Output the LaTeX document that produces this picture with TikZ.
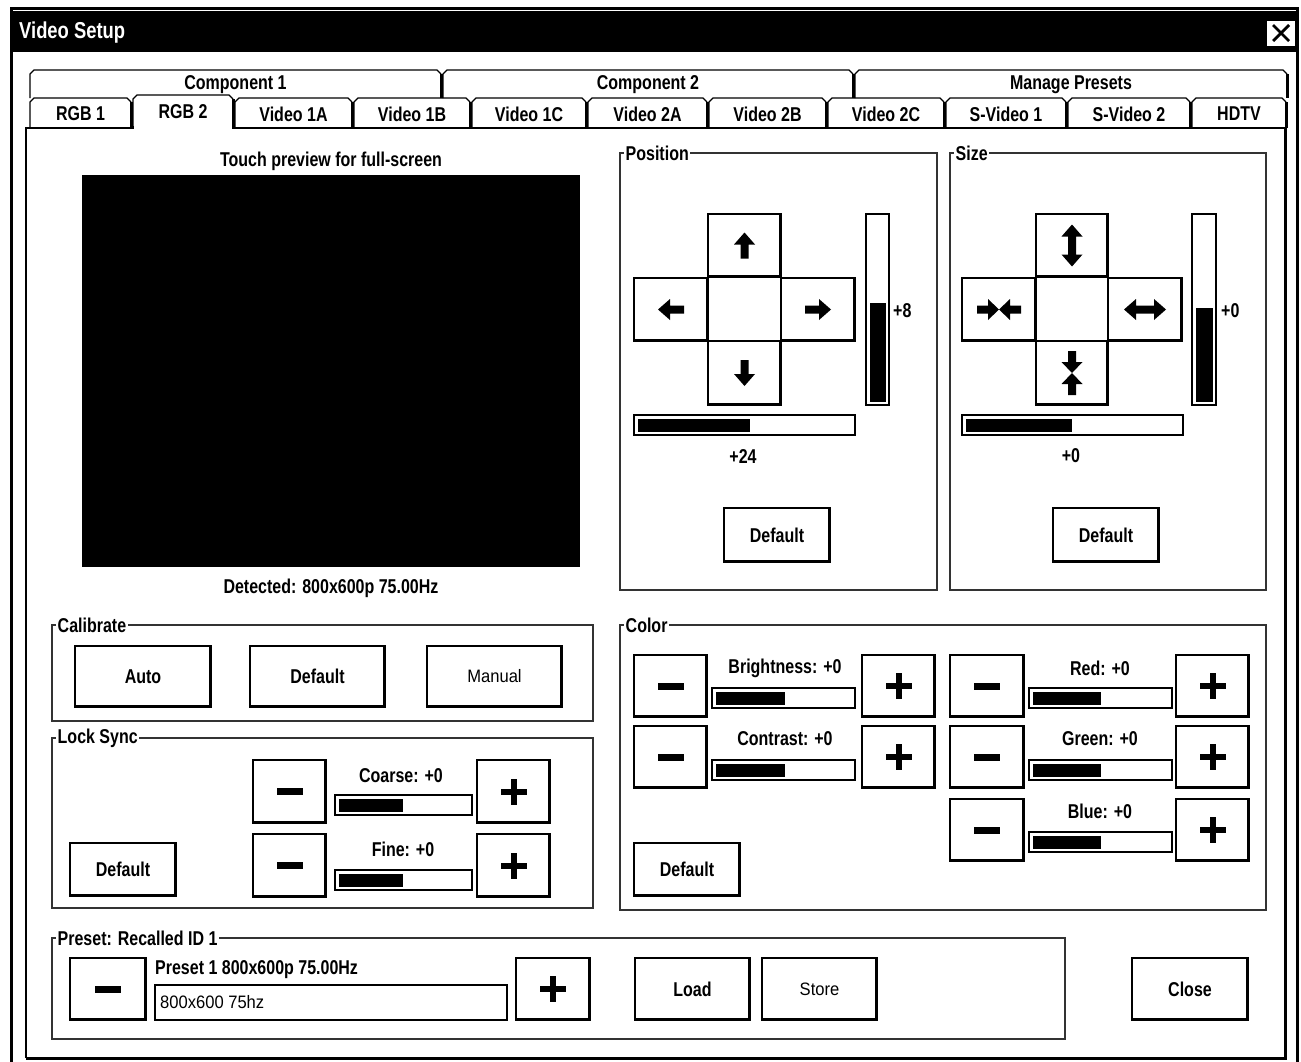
\documentclass[tikz,border=0pt]{standalone}
\usepackage{fontspec}
\setmainfont{Liberation Sans}
\newfontfamily\uibold{Liberation Sans Bold}[FakeStretch=0.8]
\newfontfamily\uireg{Liberation Sans}[FakeStretch=0.92]
\tikzset{
  lbl/.style={font=\uibold\fontsize{20}{22}\selectfont, inner sep=0pt},
  lblr/.style={font=\uireg\fontsize{18}{20}\selectfont, inner sep=0pt},
  btnbox/.style={draw=black, line width=1.3pt, fill=white, inner sep=0pt, outer sep=0pt, font=\uibold\fontsize{20}{22}\selectfont},
  shade/.style={line width=2.6pt},
  grp/.style={draw=black!80, line width=1.1pt, inner sep=0pt, outer sep=0pt},
  glabel/.style={lbl, fill=white, anchor=west, inner xsep=1.5pt},
  trough/.style={draw=black, line width=1.2pt, fill=white, inner sep=0pt, outer sep=0pt},
  thinl/.style={line width=1.3pt},
  thickl/.style={line width=3pt},
}
\newcommand\uibtn[6]{%
  \node[btnbox, minimum width={(#4-#2)*1pt}, minimum height={(#5-#3)*1pt}] (#1) at ({(#2+#4)/2},{(#3+#5)/2}) {#6};
  \draw[shade] ([xshift=-1pt,yshift=-0.5pt]#1.north east) -- ([xshift=-1pt,yshift=1pt]#1.south east) -- ([xshift=0.5pt,yshift=1pt]#1.south west);}
\newcommand\uislider[9]{%
  \node[trough, minimum width={(#4-#2)*1pt}, minimum height={(#5-#3)*1pt}] (#1) at ({(#2+#4)/2},{(#3+#5)/2}) {};
  \fill (#6,#7) rectangle (#8,#9);}
\newcommand\uigroup[6]{%
  \node[grp, minimum width={(#4-#2)*1pt}, minimum height={(#5-#3)*1pt}] (#1) at ({(#2+#4)/2},{(#3+#5)/2}) {};
  \node[glabel] (#1-l) at ([xshift=4pt]#1.north west) {#6};}
\newcommand\uitab[6]{%
  \draw[thinl] (#2,#5) -- (#2,{#3+4}) -- ({#2+4},#3) -- ({#4-4},#3) -- (#4,{#3+4});
  \draw[thickl] (#4,{#3+4}) -- (#4,#5);
  \node[lbl] (#1) at ({(#2+#4)/2},{(#3+#5)/2+1}) {#6};}
\newcommand\minusicon[1]{\fill ([shift={(-13,-3.5)}]#1.center) rectangle ([shift={(13,3.5)}]#1.center);}
\newcommand\plusicon[1]{\fill ([shift={(-13,-3)}]#1.center) rectangle ([shift={(13,3)}]#1.center);
  \fill ([shift={(-3,-13)}]#1.center) rectangle ([shift={(3,13)}]#1.center);}
\begin{document}
\begin{tikzpicture}[x=1pt,y=-1pt]
\useasboundingbox (0,0) rectangle (1301,1061);
\fill[white] (0,0) rectangle (1301,1061);
% window frame and title
\draw[line width=3pt] (11.5,1075) -- (11.5,8.5) -- (1297.5,8.5) -- (1297.5,1075);
\fill (13,11) rectangle (1296,52);
\node[font=\uibold\fontsize{23}{25}\selectfont, text=white, anchor=west, inner sep=0pt] (title) at (19,33) {Video Setup};
\node[fill=white, minimum width=28pt, minimum height=25pt, inner sep=0pt] (closex) at (1281,33) {};
\draw[line width=2.8pt] ([shift={(-8,-8)}]closex.center) -- ([shift={(8,8)}]closex.center);
\draw[line width=2.8pt] ([shift={(-8,8)}]closex.center) -- ([shift={(8,-8)}]closex.center);
% tab panel
\draw[line width=1.5pt] (26,1058) -- (26,128) -- (1285,128);
\draw[thickl] (1285,128) -- (1285,1058) -- (26,1058);
% tabs row 1
\uitab{tc1}{30}{70}{441}{98}{Component 1}
\uitab{tc2}{443}{70}{853}{98}{Component 2}
\uitab{tmp}{855}{70}{1287}{98}{Manage Presets}
% tabs row 2
\uitab{trgb1}{30}{98}{131}{128}{RGB 1}
\uitab{tv1a}{235}{98}{352}{128}{Video 1A}
\uitab{tv1b}{354}{98}{470}{128}{Video 1B}
\uitab{tv1c}{472}{98}{586}{128}{Video 1C}
\uitab{tv2a}{588}{98}{707}{128}{Video 2A}
\uitab{tv2b}{709}{98}{826}{128}{Video 2B}
\uitab{tv2c}{828}{98}{944}{128}{Video 2C}
\uitab{tsv1}{946}{98}{1066}{128}{S-Video 1}
\uitab{tsv2}{1068}{98}{1190}{128}{S-Video 2}
\uitab{thdtv}{1192}{98}{1286}{128}{HDTV}
\fill[white] (133,96) rectangle (233,129.5);
\uitab{trgb2}{133}{95}{233}{126}{RGB 2}
\draw[thinl] (133,126) -- (133,129);
\draw[thickl] (233,126) -- (233,129);
% preview
\node[lbl] (touch) at (331,161) {Touch preview for full-screen};
\node[fill=black, minimum width=498pt, minimum height=392pt, inner sep=0pt] (preview) at (331,371) {};
\node[lbl] (detected) at (331,588) {Detected: 800x600p 75.00Hz};
% Position
\uigroup{gpos}{620}{153}{937}{590}{Position}
\uibtn{pu}{708}{214}{781}{277}{}
\uibtn{pl}{634}{278}{708}{341}{}
\uibtn{pr}{781}{278}{855}{341}{}
\uibtn{pd}{708}{341}{781}{405}{}
\foreach \n/\r in {pu/0, pl/90, pr/-90, pd/180}{
  \begin{scope}[shift={(\n.center)}, rotate=\r]
    \fill (0,-13) -- (10.5,-1) -- (4,-1) -- (4,13) -- (-4,13) -- (-4,-1) -- (-10.5,-1) -- cycle;
  \end{scope}}
\uislider{pv}{866}{214}{889}{405}{869.5}{303}{885.5}{401.5}
\node[lbl, anchor=west] (pvval) at (893,311) {+8};
\uislider{ph}{634}{415}{855}{435}{637.5}{418.5}{750}{431.5}
\node[lbl] (phval) at (743,457) {+24};
\uibtn{pdef}{724}{508}{830}{562}{Default}
% Size
\uigroup{gsize}{950}{153}{1266}{590}{Size}
\uibtn{su}{1036}{214}{1108}{277}{}
\uibtn{sl}{962}{278}{1036}{341}{}
\uibtn{sr}{1108}{278}{1182}{341}{}
\uibtn{sd}{1036}{341}{1108}{405}{}
\begin{scope}[shift={(su.center)}]
  \fill (0,-21) -- (10.5,-9) -- (4,-9) -- (4,9) -- (10.5,9) -- (0,21) -- (-10.5,9) -- (-4,9) -- (-4,-9) -- (-10.5,-9) -- cycle;
\end{scope}
\begin{scope}[shift={(sr.center)}, rotate=90]
  \fill (0,-21) -- (10.5,-9) -- (4,-9) -- (4,9) -- (10.5,9) -- (0,21) -- (-10.5,9) -- (-4,9) -- (-4,-9) -- (-10.5,-9) -- cycle;
\end{scope}
\foreach \n/\r in {sd/0, sl/90}{
  \begin{scope}[shift={(\n.center)}, rotate=\r]
    \fill (0,0) -- (10.5,-11) -- (4,-11) -- (4,-22) -- (-4,-22) -- (-4,-11) -- (-10.5,-11) -- cycle;
    \fill (0,0) -- (10.5,11) -- (4,11) -- (4,22) -- (-4,22) -- (-4,11) -- (-10.5,11) -- cycle;
  \end{scope}}
\uislider{sv}{1192}{214}{1216}{405}{1195.5}{308}{1212.5}{401.5}
\node[lbl, anchor=west] (svval) at (1221,311) {+0};
\uislider{sh}{962}{415}{1183}{435}{965.5}{418.5}{1072}{431.5}
\node[lbl] (shval) at (1071,456) {+0};
\uibtn{sdef}{1053}{508}{1159}{562}{Default}
% Calibrate
\uigroup{gcal}{52}{625}{593}{721}{Calibrate}
\uibtn{cauto}{75}{646}{211}{707}{Auto}
\uibtn{cdef}{250}{646}{385}{707}{Default}
\uibtn{cman}{427}{646}{562}{707}{\uireg\fontsize{18}{20}\selectfont Manual}
\draw[line width=2.4pt] (cman.north west) rectangle (cman.south east);
% Lock Sync
\uigroup{glock}{52}{738}{593}{908}{Lock Sync}
\uibtn{ldef}{70}{843}{176}{896}{Default}
\uibtn{lcm}{253}{760}{326}{823}{}
\minusicon{lcm}
\node[lbl] (lcl) at (401,776) {Coarse: +0};
\uislider{lcs}{335}{795}{472}{815}{338.5}{798.5}{403}{811.5}
\uibtn{lcp}{477}{760}{550}{823}{}
\plusicon{lcp}
\uibtn{lfm}{253}{834}{326}{897}{}
\minusicon{lfm}
\node[lbl] (lfl) at (403,849) {Fine: +0};
\uislider{lfs}{335}{870}{472}{890}{338.5}{873.5}{403}{886.5}
\uibtn{lfp}{477}{834}{550}{897}{}
\plusicon{lfp}
% Color
\uigroup{gcol}{620}{625}{1266}{910}{Color}
\uibtn{cbm}{634}{655}{707}{717}{}
\minusicon{cbm}
\node[lbl] (cbl) at (785,668) {Brightness: +0};
\uislider{cbs}{712}{688}{855}{708}{715.5}{691.5}{785}{704.5}
\uibtn{cbp}{862}{655}{935}{717}{}
\plusicon{cbp}
\uibtn{ccm}{634}{726}{707}{788}{}
\minusicon{ccm}
\node[lbl] (ccl) at (785,739) {Contrast: +0};
\uislider{ccs}{712}{760}{855}{780}{715.5}{763.5}{785}{776.5}
\uibtn{ccp}{862}{726}{935}{788}{}
\plusicon{ccp}
\uibtn{crm}{950}{655}{1024}{717}{}
\minusicon{crm}
\node[lbl] (crl) at (1100,668) {Red: +0};
\uislider{crs}{1029}{688}{1172}{708}{1032.5}{691.5}{1101}{704.5}
\uibtn{crp}{1176}{655}{1249}{717}{}
\plusicon{crp}
\uibtn{cgm}{950}{726}{1024}{788}{}
\minusicon{cgm}
\node[lbl] (cgl) at (1100,739) {Green: +0};
\uislider{cgs}{1029}{760}{1172}{780}{1032.5}{763.5}{1101}{776.5}
\uibtn{cgp}{1176}{726}{1249}{788}{}
\plusicon{cgp}
\uibtn{cblm}{950}{799}{1024}{861}{}
\minusicon{cblm}
\node[lbl] (cbll) at (1100,811) {Blue: +0};
\uislider{cbls}{1029}{832}{1172}{852}{1032.5}{835.5}{1101}{848.5}
\uibtn{cblp}{1176}{799}{1249}{861}{}
\plusicon{cblp}
\uibtn{coldef}{634}{843}{740}{896}{Default}
% Preset
\uigroup{gpre}{52}{938}{1065}{1039}{Preset: Recalled ID 1}
\uibtn{prm}{70}{958}{146}{1020}{}
\minusicon{prm}
\node[lbl, anchor=west] (prl) at (155,970) {Preset 1 800x600p 75.00Hz};
\node[draw, line width=2.4pt, minimum width=352pt, minimum height=35pt, inner sep=0pt] (prfield) at (331,1002.5) {};
\node[lblr, anchor=west] (prtext) at (160,1002.5) {800x600 75hz};
\uibtn{prp}{516}{958}{590}{1020}{}
\plusicon{prp}
\uibtn{pload}{635}{958}{750}{1020}{Load}
\uibtn{pstore}{762}{958}{877}{1020}{\uireg\fontsize{18}{20}\selectfont Store}
\uibtn{pclose}{1132}{958}{1248}{1020}{Close}
\end{tikzpicture}
\end{document}
